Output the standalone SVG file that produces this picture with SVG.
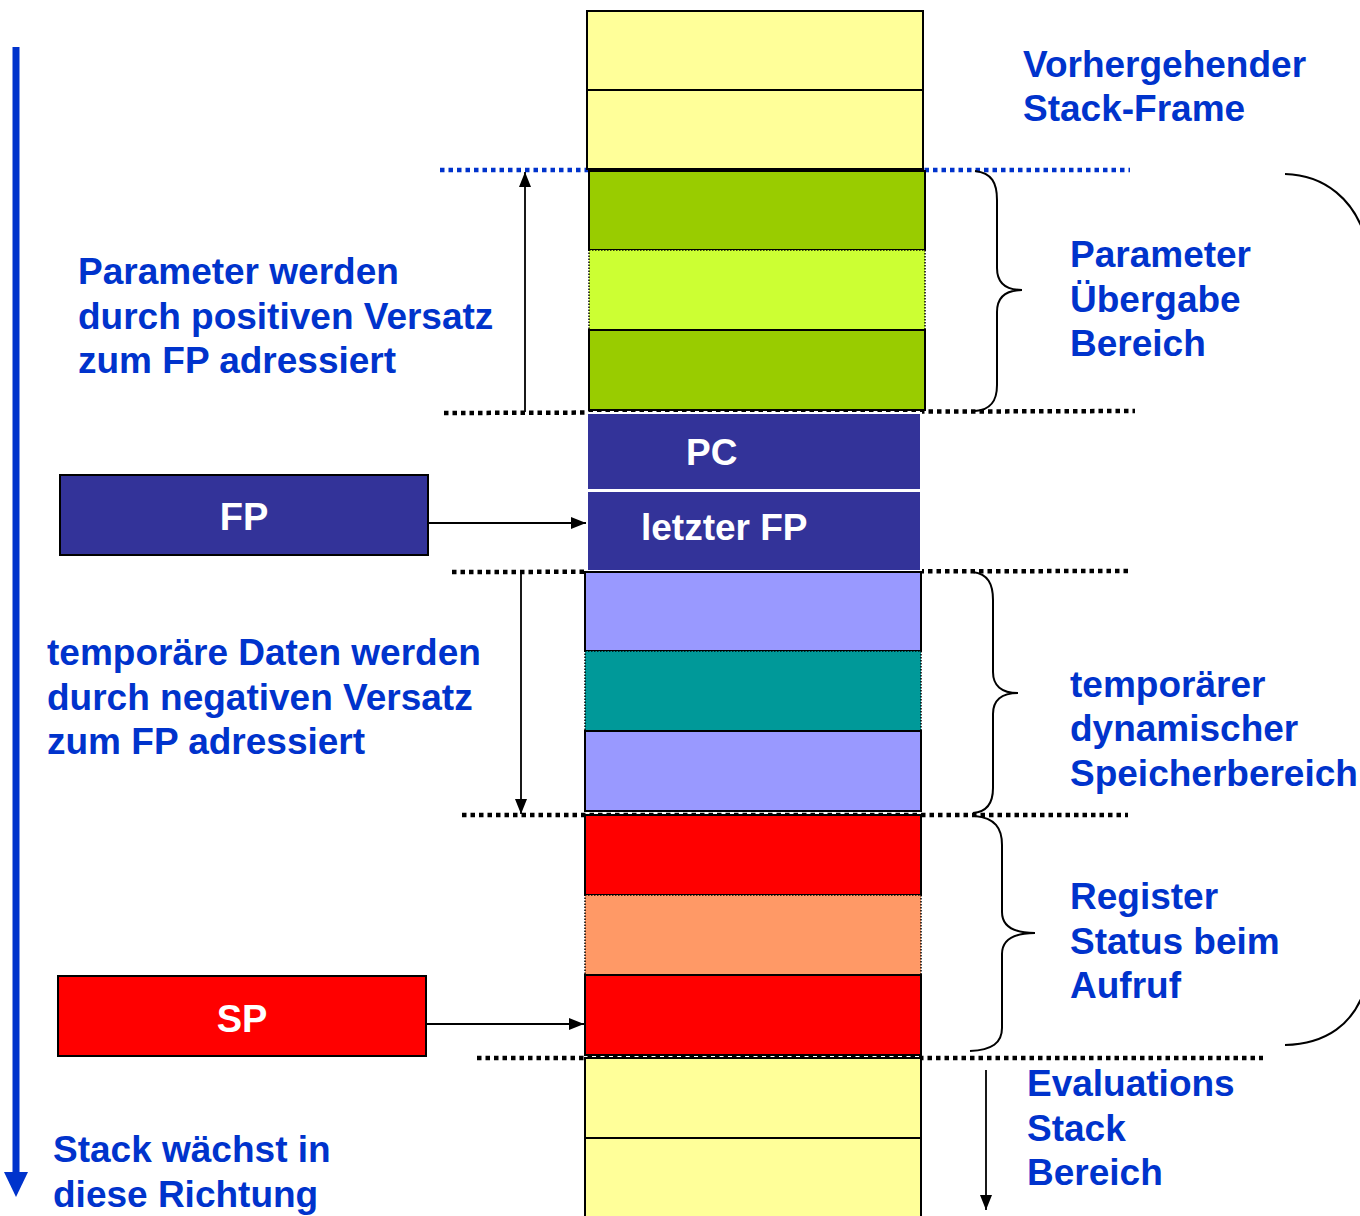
<svg xmlns="http://www.w3.org/2000/svg" width="1360" height="1216" viewBox="0 0 1360 1216">
<style>
.t{font-family:"Liberation Sans",Arial,sans-serif;font-weight:bold;font-size:37px;fill:#0033CC}
.w{font-family:"Liberation Sans",Arial,sans-serif;font-weight:bold;font-size:37px;fill:#FFFFFF}
.cell{stroke:#000;stroke-width:2}
.dot{stroke:#000;stroke-width:4.5;stroke-dasharray:4.5 4;fill:none}
.brace{stroke:#000;stroke-width:2;fill:none}
.ln{stroke:#000;stroke-width:1.8;fill:none}
</style>
<defs>
<marker id="ah2" viewBox="0 0 15 12" refX="15" refY="6" markerWidth="15" markerHeight="12" markerUnits="userSpaceOnUse" orient="auto">
<path d="M0,0 L15,6 L0,12 z" fill="#000"/>
</marker>
</defs>
<rect width="1360" height="1216" fill="#fff"/>

<g id="separators">
<line class="dot" x1="440" y1="170" x2="1130" y2="170" style="stroke:#0033CC"/>
<line class="dot" x1="444" y1="413" x2="1135" y2="411"/>
<line class="dot" x1="452" y1="572" x2="1130" y2="571"/>
<line class="dot" x1="462" y1="815" x2="1128" y2="815"/>
<line class="dot" x1="477" y1="1058" x2="1263" y2="1058"/>
</g>

<g id="prev-frame">
<rect class="cell" x="587" y="11" width="336" height="79" fill="#FFFF99"/>
<rect class="cell" x="587" y="90" width="336" height="79" fill="#FFFF99"/>
</g>
<g id="params">
<rect class="cell" x="589" y="171" width="336" height="79" fill="#99CC00"/>
<rect class="cell" x="589" y="250" width="336" height="80" fill="#CCFF33" style="stroke-dasharray:1.5 1.5;stroke-width:1.5"/>
<rect class="cell" x="589" y="330" width="336" height="80" fill="#99CC00"/>
</g>
<g id="pc">
<rect x="587" y="413" width="334" height="77" fill="#333399" stroke="#fff" stroke-width="2"/>
<text class="w" x="686" y="465">PC</text>
</g>
<g id="last-fp">
<rect x="587" y="491" width="334" height="80" fill="#333399" stroke="#fff" stroke-width="2"/>
<text class="w" x="641" y="540">letzter FP</text>
</g>
<g id="temp">
<rect class="cell" x="585" y="572" width="336" height="79" fill="#9999FF"/>
<rect class="cell" x="585" y="651" width="336" height="80" fill="#009999" style="stroke-dasharray:1.5 1.5;stroke-width:1.5"/>
<rect class="cell" x="585" y="731" width="336" height="80" fill="#9999FF"/>
</g>
<g id="regs">
<rect class="cell" x="585" y="815" width="336" height="80" fill="#FF0000"/>
<rect class="cell" x="585" y="895" width="336" height="80" fill="#FF9966" style="stroke-dasharray:1.5 1.5;stroke-width:1.5"/>
<rect class="cell" x="585" y="975" width="336" height="80" fill="#FF0000"/>
</g>
<g id="eval-stack">
<rect class="cell" x="585" y="1058" width="336" height="80" fill="#FFFF99"/>
<rect class="cell" x="585" y="1138" width="336" height="90" fill="#FFFF99"/>
</g>

<g id="fp-box">
<rect x="60" y="475" width="368" height="80" fill="#333399" stroke="#000" stroke-width="2"/>
<text class="w" x="244" y="530" text-anchor="middle" style="font-size:38px">FP</text>
</g>
<g id="sp-box">
<rect x="58" y="976" width="368" height="80" fill="#FF0000" stroke="#000" stroke-width="2"/>
<text class="w" x="242" y="1032" text-anchor="middle" style="font-size:38px">SP</text>
</g>

<g id="connectors">
<line class="ln" x1="525" y1="412" x2="525" y2="172" marker-end="url(#ah2)"/>
<line class="ln" x1="521" y1="572" x2="521" y2="814" marker-end="url(#ah2)"/>
<line class="ln" x1="428" y1="523" x2="586" y2="523" marker-end="url(#ah2)"/>
<line class="ln" x1="426" y1="1024" x2="584" y2="1024" marker-end="url(#ah2)"/>
<line class="ln" x1="986" y1="1070" x2="986" y2="1210" marker-end="url(#ah2)"/>
<path d="M16,47 L16,1174" stroke="#0033CC" stroke-width="7" fill="none"/>
<path d="M4,1172 L28,1172 L16,1197 z" fill="#0033CC"/>
</g>

<g id="braces">
<path class="brace" d="M975,171 C992,173 997,183 997,200 L997,268 C997,282 1005,290 1022,290 C1005,290 997,298 997,312 L997,385 C997,402 990,410 975,411"/>
<path class="brace" d="M973,572 C988,574 993,584 993,600 L993,672 C993,685 1001,693 1018,693 C1001,693 993,701 993,714 L993,788 C993,804 986,812 973,813"/>
<path class="brace" d="M975,816 C995,818 1002,828 1002,845 L1002,912 C1002,925 1012,933 1035,933 C1012,933 1002,941 1002,954 L1002,1028 C1002,1043 992,1050 970,1051"/>
<path class="brace" d="M1285,174 C1325,175 1355,200 1366,240 L1366,985 C1355,1025 1325,1044 1285,1045"/>
</g>

<g id="labels">
<text class="t" x="1023" y="77">Vorhergehender</text>
<text class="t" x="1023" y="121">Stack-Frame</text>
<text class="t" x="78" y="284">Parameter werden</text>
<text class="t" x="78" y="329">durch positiven Versatz</text>
<text class="t" x="78" y="373">zum FP adressiert</text>
<text class="t" x="1070" y="267">Parameter</text>
<text class="t" x="1070" y="312">Übergabe</text>
<text class="t" x="1070" y="356">Bereich</text>
<text class="t" x="47" y="665">temporäre Daten werden</text>
<text class="t" x="47" y="710">durch negativen Versatz</text>
<text class="t" x="47" y="754">zum FP adressiert</text>
<text class="t" x="1070" y="697">temporärer</text>
<text class="t" x="1070" y="741">dynamischer</text>
<text class="t" x="1070" y="786">Speicherbereich</text>
<text class="t" x="1070" y="909">Register</text>
<text class="t" x="1070" y="954">Status beim</text>
<text class="t" x="1070" y="998">Aufruf</text>
<text class="t" x="1027" y="1096">Evaluations</text>
<text class="t" x="1027" y="1141">Stack</text>
<text class="t" x="1027" y="1185">Bereich</text>
<text class="t" x="53" y="1162">Stack wächst in</text>
<text class="t" x="53" y="1207">diese Richtung</text>
</g>
</svg>
